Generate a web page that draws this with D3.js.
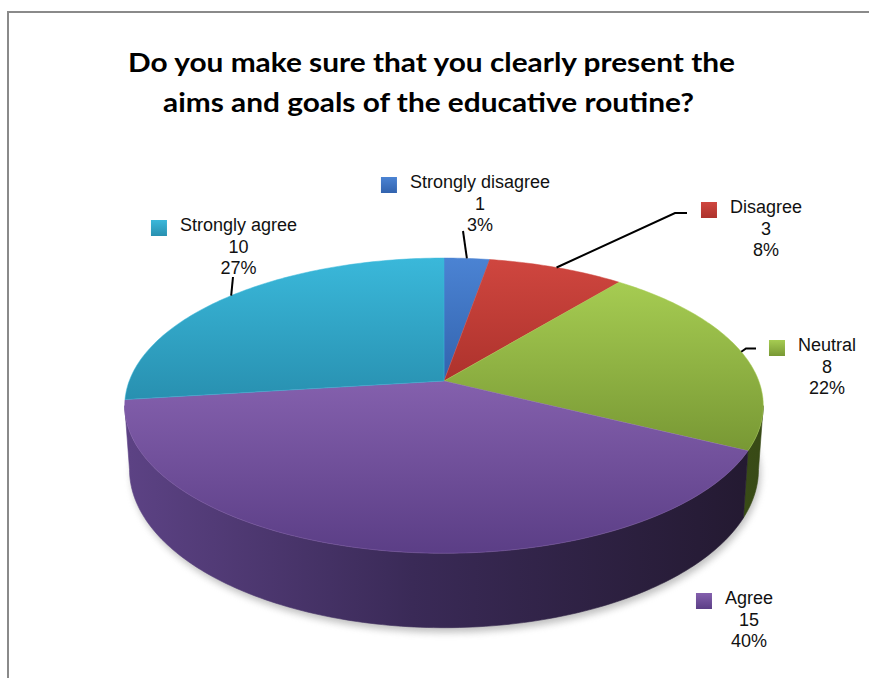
<!DOCTYPE html>
<html>
<head>
<meta charset="utf-8">
<script src="https://cdn.jsdelivr.net/npm/d3@7"></script>
<style>
  html, body { margin: 0; padding: 0; background: #ffffff; }
  svg { display: block; }
</style>
</head>
<body>
<div id="chart"></div>
<script>
// Survey answers, in pie order (clockwise from 12 o'clock)
const categories = ["Strongly disagree", "Disagree", "Neutral", "Agree", "Strongly agree"];
const counts = [1, 3, 8, 15, 10];
const percentLabels = ["3%", "8%", "22%", "40%", "27%"];
const titleLines = [
  "Do you make sure that you clearly present the",
  "aims and goals of the educative routine?"
];

// Top face colours: [upper tone, lower tone]
const topColors = [
  ["#4b83d3", "#3263ae"],
  ["#cf463f", "#ad322c"],
  ["#a6cc52", "#789834"],
  ["#8460ad", "#5b3e86"],
  ["#3ab8da", "#2890b0"]
];
// Outer wall colours: [left, middle, right]
const sideColors = [
  ["#2f5ea4", "#244a82", "#1b3865"],
  ["#a6302a", "#852520", "#661b18"],
  ["#6b8830", "#4f6622", "#384a16"],
  ["#5c4284", "#3a2a57", "#231930"],
  ["#2a8fae", "#1f6f88", "#17556a"]
];

const width = 869, height = 678;

const svg = d3.select("#chart").append("svg")
  .attr("width", width)
  .attr("height", height)
  .attr("viewBox", [0, 0, width, height]);

const defs = svg.append("defs");

// Frame of the chart area
svg.append("line").attr("x1", 7).attr("x2", width).attr("y1", 12).attr("y2", 12)
  .attr("stroke", "#8a8a8a").attr("stroke-width", 2);
svg.append("line").attr("x1", 8).attr("x2", 8).attr("y1", 11).attr("y2", height)
  .attr("stroke", "#8a8a8a").attr("stroke-width", 2);

// Title
const title = svg.append("g")
  .attr("font-family", "Lato, 'Open Sans', sans-serif")
  .attr("font-weight", 700)
  .attr("font-size", 27.5)
  .attr("fill", "#000");
const titleSpecs = [{x: 128, y: 72, w: 607}, {x: 163, y: 112, w: 531}];
titleLines.forEach((t, i) => {
  title.append("text")
    .attr("x", titleSpecs[i].x)
    .attr("y", titleSpecs[i].y)
    .attr("textLength", titleSpecs[i].w)
    .attr("lengthAdjust", "spacingAndGlyphs")
    .text(t);
});

// ---- 3D pie geometry (perspective-projected disc) ----
const cx = 444, cy = 381;      // projected centre of the top face
const A = 314.8, B = 143.5;    // horizontal / vertical radii
const persp = 0.167;           // perspective strength (far edge shrinks)
const depth = 62;              // thickness of the disc
const bottomShrink = 0.985;

const xScale = d3.scaleLinear().domain([-1, 1]).range([cx - A, cx + A]);
const yScale = d3.scaleLinear().domain([-1, 1]).range([cy + B, cy - B]);

function proj(theta, d = 0) {
  const u = Math.sin(theta), v = Math.cos(theta);
  const s = 1 / (1 + persp * v);
  let x = xScale(u * s);
  const y = yScale(v * s) + d * s;
  if (d > 0) x = cx + (x - cx) * bottomShrink;
  return [x, y];
}

function rim(a0, a1, d = 0) {
  const n = Math.max(2, Math.ceil(Math.abs(a1 - a0) / (Math.PI / 180)));
  return d3.range(n + 1).map(i => proj(a0 + (a1 - a0) * i / n, d));
}

const pie = d3.pie().sort(null).value(d => d)(counts);

// Gradients
topColors.forEach((c, i) => {
  const g = defs.append("linearGradient").attr("id", "top" + i)
    .attr("x1", 0).attr("y1", 0).attr("x2", 0).attr("y2", 1);
  g.append("stop").attr("offset", 0).attr("stop-color", c[0]);
  g.append("stop").attr("offset", 1).attr("stop-color", c[1]);

  const sc = sideColors[i];
  const sg = defs.append("linearGradient").attr("id", "side" + i)
    .attr("gradientUnits", "userSpaceOnUse")
    .attr("x1", cx - A).attr("y1", 0).attr("x2", cx + A).attr("y2", 0);
  sg.append("stop").attr("offset", 0).attr("stop-color", sc[0]);
  sg.append("stop").attr("offset", 0.45).attr("stop-color", sc[1]);
  sg.append("stop").attr("offset", 1).attr("stop-color", sc[2]);

  const lg = defs.append("linearGradient").attr("id", "key" + i)
    .attr("x1", 0).attr("y1", 0).attr("x2", 0).attr("y2", 1);
  lg.append("stop").attr("offset", 0).attr("stop-color", c[0]);
  lg.append("stop").attr("offset", 1).attr("stop-color", c[1]);
});

const blur = defs.append("filter").attr("id", "shadowBlur")
  .attr("x", -0.1).attr("y", -0.1).attr("width", 1.2).attr("height", 1.4);
blur.append("feGaussianBlur").attr("stdDeviation", 3.5);

const line = d3.line();
const pieG = svg.append("g");

// Soft shadow under the disc
const shadowPts = rim(Math.PI / 2, 3 * Math.PI / 2, depth + 4).map(([x, y]) => [x + 2, y]);
pieG.append("path")
  .attr("d", line(shadowPts) + "Z")
  .attr("fill", "#8d8d8d")
  .attr("opacity", 0.55)
  .attr("filter", "url(#shadowBlur)");

// Visible part of the outer wall lies between the left and right silhouettes
const sil0 = Math.acos(-persp), sil1 = 2 * Math.PI - sil0;
pie.forEach((d, i) => {
  const a0 = Math.max(d.startAngle, sil0), a1 = Math.min(d.endAngle, sil1);
  if (a1 <= a0) return;
  const pts = rim(a0, a1, 0).concat(rim(a1, a0, depth));
  pieG.append("path")
    .attr("d", line(pts) + "Z")
    .attr("fill", `url(#side${i})`)
    .attr("stroke", `url(#side${i})`)
    .attr("stroke-width", 0.6);
});

// Top faces
pie.forEach((d, i) => {
  const pts = [[cx, cy]].concat(rim(d.startAngle, d.endAngle, 0));
  pieG.append("path")
    .attr("d", line(pts) + "Z")
    .attr("fill", `url(#top${i})`)
    .attr("stroke", topColors[i][0])
    .attr("stroke-width", 0.5)
    .attr("stroke-linejoin", "round");
});

// ---- Data labels ----
// text centre x, first baseline y, and leader-line route (bend points after the slice anchor)
const labelLayout = [
  {x: 480, y: 188, bends: [[463, 231]]},
  {x: 766, y: 213, bends: [[675, 213], [687, 213]]},
  {x: 827, y: 351, bends: [[746, 348.5], [756, 348.5]]},
  {x: 749, y: 604, bends: null},
  {x: 238.5, y: 231, bends: [[233, 277]]}
];
const lineGap = 21.5;

const labelG = svg.append("g")
  .attr("font-family", "'Liberation Sans', Arial, sans-serif")
  .attr("font-size", 18)
  .attr("fill", "#111");

pie.forEach((d, i) => {
  const L = labelLayout[i];
  if (L.bends) {
    const mid = (d.startAngle + d.endAngle) / 2;
    const anchor = proj(mid, 0);
    labelG.append("path")
      .attr("d", line([anchor].concat(L.bends)))
      .attr("fill", "none")
      .attr("stroke", "#000")
      .attr("stroke-width", 2);
  }
  const lines = [categories[i], String(counts[i]), percentLabels[i]];
  const texts = lines.map((t, k) => labelG.append("text")
    .attr("x", L.x)
    .attr("y", L.y + k * lineGap)
    .attr("text-anchor", "middle")
    .text(t));
  const w = texts[0].node().getComputedTextLength();
  labelG.append("rect")
    .attr("x", L.x - w / 2 - 29)
    .attr("y", L.y - 11)
    .attr("width", 16)
    .attr("height", 16)
    .attr("fill", `url(#key${i})`);
});
</script>
</body>
</html>
